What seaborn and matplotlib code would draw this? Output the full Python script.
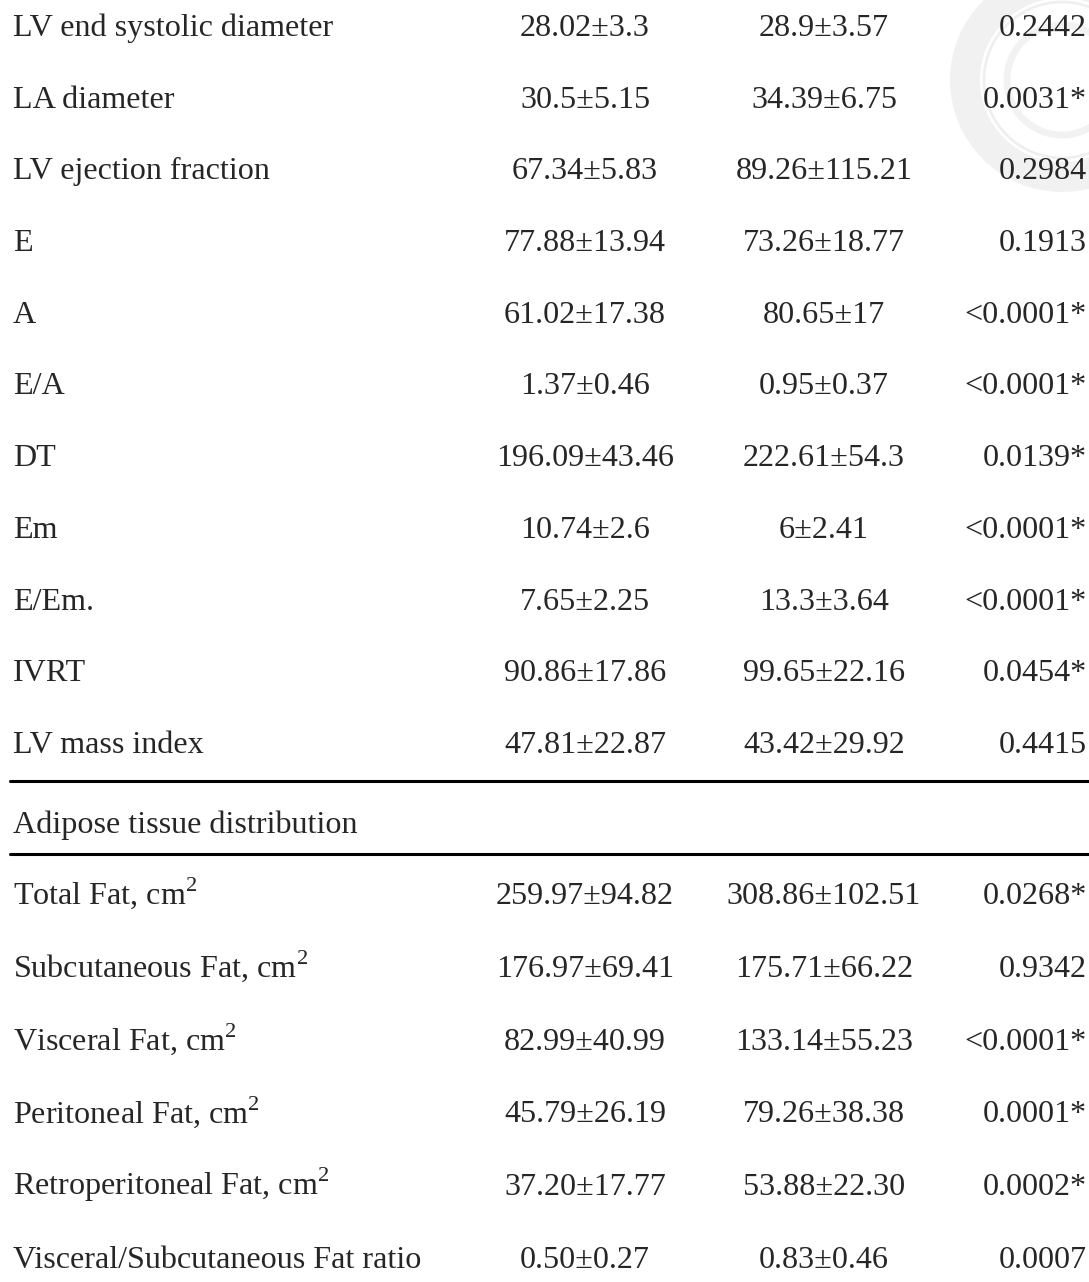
import pandas as pd
import matplotlib.pyplot as plt
from matplotlib.patches import Circle, Wedge
import seaborn as sns

# table content
echo_labels = ['LV end systolic diameter', 'LA diameter', 'LV ejection fraction',
               'E', 'A', 'E/A', 'DT', 'Em', 'E/Em.', 'IVRT', 'LV mass index']
echo_group1 = ['28.02±3.3', '30.5±5.15', '67.34±5.83', '77.88±13.94', '61.02±17.38',
               '1.37±0.46', '196.09±43.46', '10.74±2.6', '7.65±2.25', '90.86±17.86',
               '47.81±22.87']
echo_group2 = ['28.9±3.57', '34.39±6.75', '89.26±115.21', '73.26±18.77', '80.65±17',
               '0.95±0.37', '222.61±54.3', '6±2.41', '13.3±3.64', '99.65±22.16',
               '43.42±29.92']
echo_p = ['0.2442', '0.0031*', '0.2984', '0.1913', '<0.0001*', '<0.0001*', '0.0139*',
          '<0.0001*', '<0.0001*', '0.0454*', '0.4415']

section_title = 'Adipose tissue distribution'
fat_labels = [r'Total Fat, cm$^{\mathrm{2}}$', r'Subcutaneous Fat, cm$^{\mathrm{2}}$',
              r'Visceral Fat, cm$^{\mathrm{2}}$', r'Peritoneal Fat, cm$^{\mathrm{2}}$',
              r'Retroperitoneal Fat, cm$^{\mathrm{2}}$', 'Visceral/Subcutaneous Fat ratio']
fat_group1 = ['259.97±94.82', '176.97±69.41', '82.99±40.99', '45.79±26.19',
              '37.20±17.77', '0.50±0.27']
fat_group2 = ['308.86±102.51', '175.71±66.22', '133.14±55.23', '79.26±38.38',
              '53.88±22.30', '0.83±0.46']
fat_p = ['0.0268*', '0.9342', '<0.0001*', '0.0001*', '0.0002*', '0.0007']

sns.set_theme(style='white')
plt.rcParams['font.family'] = ['Liberation Serif', 'DejaVu Serif']
plt.rcParams['mathtext.fontset'] = 'custom'
plt.rcParams['mathtext.rm'] = 'Liberation Serif'

W, H = 1089, 1282
fig = plt.figure(figsize=(W / 100, H / 100), dpi=100)
ax = fig.add_axes([0, 0, 1, 1])
ax.set_xlim(0, W)
ax.set_ylim(H, 0)
ax.axis('off')

# faint seal watermark in the top right corner
ax.add_patch(Wedge((1062, 80), 112, 0, 360, width=30, color='#e4e4e4', alpha=0.5, lw=0))
ax.add_patch(Circle((1062, 80), 78, fill=False, ec='#e0e0e0', lw=2, alpha=0.5))
ax.add_patch(Circle((1062, 80), 55, fill=False, ec='#e0e0e0', lw=5, alpha=0.4))

fs = 23.1
x_label, x_g1, x_g2, x_p = 13, 585, 824, 1087


def draw_rows(labels, g1, g2, p, y0, step):
    df = pd.DataFrame({'label': labels, 'g1': g1, 'g2': g2, 'p': p})
    for i, row in df.iterrows():
        yb = y0 + i * step + 11
        ax.text(x_label, yb, row['label'], fontsize=fs, ha='left', va='baseline')
        ax.text(x_g1, yb, row['g1'], fontsize=fs, ha='center', va='baseline')
        ax.text(x_g2, yb, row['g2'], fontsize=fs, ha='center', va='baseline')
        ax.text(x_p, yb, row['p'], fontsize=fs, ha='right', va='baseline')


draw_rows(echo_labels, echo_group1, echo_group2, echo_p, 25, 71.7)
ax.plot([10, W], [781, 781], color='black', lw=2.2)
ax.text(x_label, 833, section_title, fontsize=fs, ha='left', va='baseline')
ax.plot([10, W], [854, 854], color='black', lw=2.2)
draw_rows(fat_labels, fat_group1, fat_group2, fat_p, 893, 72.8)

plt.savefig('out.png', dpi=100)
